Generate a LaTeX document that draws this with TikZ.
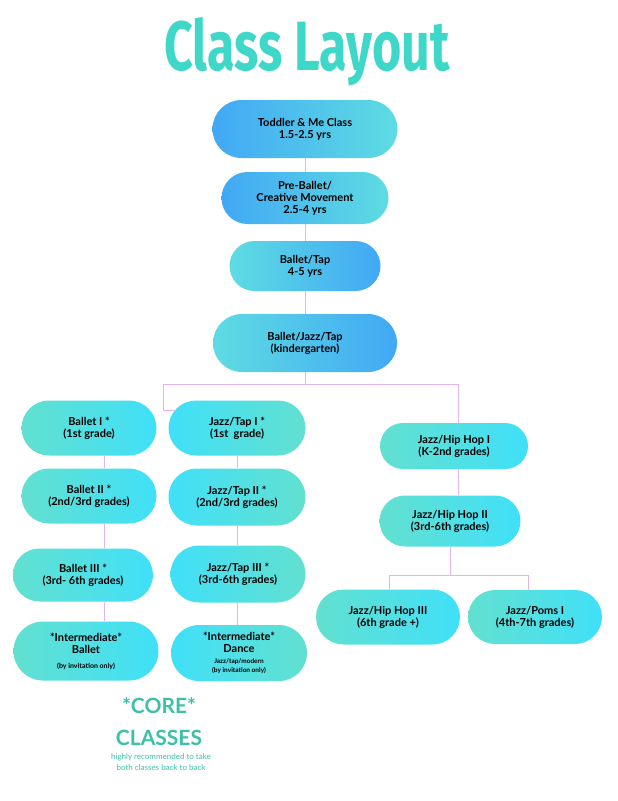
\documentclass[tikz,border=0pt]{standalone}
\usepackage{fontspec}
\setmainfont{Lato}
\usepackage{graphicx}
\definecolor{bl}{HTML}{41A8F5}
\definecolor{cy}{HTML}{5EDCE2}
\definecolor{cy2}{HTML}{40E0F8}
\definecolor{tl}{HTML}{62E0D0}
\definecolor{ln}{HTML}{E2B4F0}
\definecolor{ttl}{HTML}{3FD8C8}
\definecolor{core}{HTML}{3CC0A8}
\tikzset{
 pill/.style args={#1/#2/#3}{rounded corners=#2/2, minimum width=#1, minimum height=#2, inner sep=0pt, align=center, font=\bfseries\fontsize{11}{12}\selectfont, #3},
 bc/.style={left color=bl, right color=cy},
 cb/.style={left color=cy, right color=bl},
 tc/.style={left color=tl, right color=cy2},
 ct/.style={left color=cy2, right color=tl},
 con/.style={draw=ln, line width=0.9pt},
}
\begin{document}
\begin{tikzpicture}[x=1pt,y=-1pt]
\useasboundingbox (0,0) rectangle (618,801);
\fill[white] (0,0) rectangle (618,801);
\coordinate (x104) at (104,0);
\coordinate (x237) at (237,0);
\coordinate (x458) at (458,0);
\coordinate (x389) at (389,0);
\coordinate (x528) at (528,0);
\coordinate (s) at (305,384);
\coordinate (sl) at (163,384);
\coordinate (sr) at (458,384);
\coordinate (sj) at (163,410);
\coordinate (sk) at (176,410);
\coordinate (hs) at (450,575);
\coordinate (hl) at (389,575);
\coordinate (hr) at (528,575);
\node[text=ttl, inner sep=0pt] (title) at (307,52) {\resizebox{285pt}{53pt}{\fontspec{Fira Sans}\bfseries Class Layout}};
\node[pill=185pt/58pt/bc] (tod) at (305,129) {Toddler \& Me Class\\1.5-2.5 yrs};
\node[pill=167pt/52pt/bc] (pre) at (305,198) {Pre-Ballet/\\Creative Movement\\2.5-4 yrs};
\node[pill=151pt/50pt/cb] (bt) at (305,266) {Ballet/Tap\\4-5 yrs};
\node[pill=184pt/58pt/cb] (bjt) at (305,343) {Ballet/Jazz/Tap\\(kindergarten)};
\node[pill=135pt/55pt/tc] (b1) at (89,428) {Ballet I *\\(1st grade)};
\node[pill=137pt/55pt/ct] (j1) at (237,428) {Jazz/Tap I *\\(1st\ \ grade)};
\node[pill=148pt/46pt/tc] (h1) at (454,446) {Jazz/Hip Hop I\\(K-2nd grades)};
\node[pill=135pt/55pt/tc] (b2) at (89,496) {Ballet II *\\(2nd/3rd grades)};
\node[pill=137pt/57pt/ct] (j2) at (237,497) {Jazz/Tap II *\\(2nd/3rd grades)};
\node[pill=141pt/51pt/tc] (h2) at (450,521) {Jazz/Hip Hop II\\(3rd-6th grades)};
\node[pill=140pt/53pt/tc] (b3) at (83,575) {Ballet III *\\(3rd- 6th grades)};
\node[pill=135pt/57pt/ct] (j3) at (238,574) {Jazz/Tap III *\\(3rd-6th grades)};
\node[pill=144pt/55pt/tc] (h3) at (388,617) {Jazz/Hip Hop III\\(6th grade +)};
\node[pill=134pt/54pt/tc] (pm) at (535,617) {Jazz/Poms I\\(4th-7th grades)};
\node[pill=145pt/59pt/tc] (ib) at (86,651) {*Intermediate*\\Ballet\\[3pt]{\fontsize{7}{8}\selectfont(by invitation only)}};
\node[pill=136pt/56pt/ct] (id) at (239,653) {*Intermediate*\\Dance\\[-1pt]{\fontsize{6.5}{7}\selectfont Jazz/tap/modern}\\[-3pt]{\fontsize{6.5}{7}\selectfont(by invitation only)}};
\node[text=core, font=\fontsize{21}{24}\selectfont\bfseries] (c1) at (159,706) {*CORE*};
\node[text=core, font=\fontsize{21}{24}\selectfont\bfseries] (c2) at (159,738) {CLASSES};
\node[text=core, font=\fontsize{8}{10.5}\selectfont, align=center] (c3) at (161,762) {highly recommended to take\\both classes back to back};
\draw[con] (bjt.south) -- (s);
\draw[con] (sl) -- (sr);
\draw[con] (sl) -- (sj) -- (sk);
\draw[con] (sr) -- (sr |- h1.north);
\draw[con] (b1.south -| x104) -- (b2.north -| x104);
\draw[con] (b2.south -| x104) -- (b3.north -| x104);
\draw[con] (b3.south -| x104) -- (ib.north -| x104);
\draw[con] (j1.south -| x237) -- (j2.north -| x237);
\draw[con] (j2.south -| x237) -- (j3.north -| x237);
\draw[con] (j3.south -| x237) -- (id.north -| x237);
\draw[con] (h1.south -| x458) -- (h2.north -| x458);
\draw[con] (h2.south) -- (hs);
\draw[con] (hl) -- (hr);
\draw[con] (hl) -- (h3.north -| x389);
\draw[con] (hr) -- (pm.north -| x528);
\draw[con] (tod.south) -- (pre.north);
\draw[con] (pre.south) -- (bt.north);
\draw[con] (bt.south) -- (bjt.north);
\end{tikzpicture}
\end{document}
